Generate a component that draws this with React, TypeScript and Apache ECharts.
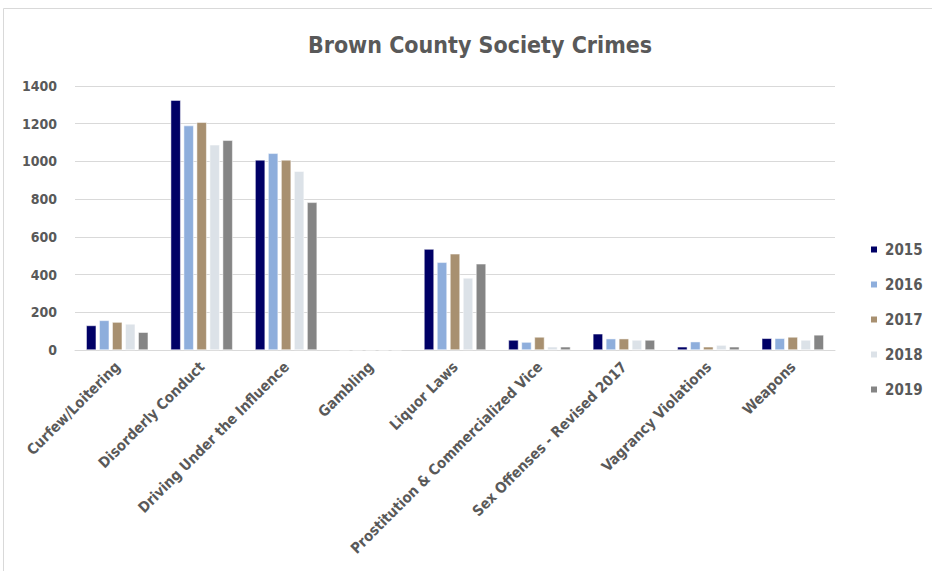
import React, { useEffect, useRef } from "react";
import * as echarts from "echarts";

const categories = [
  "Curfew/Loitering",
  "Disorderly Conduct",
  "Driving Under the Influence",
  "Gambling",
  "Liquor Laws",
  "Prostitution & Commercialized Vice",
  "Sex Offenses - Revised 2017",
  "Vagrancy Violations",
  "Weapons",
];
const years = ["2015", "2016", "2017", "2018", "2019"];
const values2015 = [130, 1325, 1008, 0, 535, 53, 86, 17, 62];
const values2016 = [157, 1190, 1043, 0, 465, 42, 60, 44, 62];
const values2017 = [148, 1208, 1008, 0, 510, 69, 60, 17, 69];
const values2018 = [138, 1088, 948, 0, 382, 17, 53, 26, 53];
const values2019 = [94, 1112, 783, 0, 457, 17, 53, 17, 80];
const colors = ["#000066", "#8EAEDC", "#A89070", "#DCE2E8", "#858585"];
const yTicks = { min: 0, max: 1400, interval: 200 };

const FONT = "'DejaVu Sans Condensed', 'Liberation Sans Narrow', 'Liberation Sans', sans-serif";
const TXT = "#595959";

export default function App() {
  const ref = useRef<HTMLDivElement>(null);
  useEffect(() => {
    if (!ref.current) return;
    const chart = echarts.init(ref.current, null, { renderer: "svg" });
    const all = [values2015, values2016, values2017, values2018, values2019];
    chart.setOption({
      animation: false,
      backgroundColor: "#ffffff",
      title: {
        text: "Brown County Society Crimes",
        left: 475,
        textAlign: "center",
        top: 28,
        textStyle: { fontFamily: FONT, fontWeight: "bold", fontSize: 23, color: TXT },
      },
      graphic: [
        {
          type: "rect",
          shape: { x: 3.5, y: 8.5, width: 960, height: 600 },
          style: { fill: "none", stroke: "#D9D9D9", lineWidth: 1 },
          silent: true,
        },
      ],
      legend: {
        orient: "vertical",
        left: 864,
        top: 237,
        itemWidth: 8,
        itemHeight: 8,
        itemGap: 20,
        icon: "rect",
        textStyle: { fontFamily: FONT, fontWeight: "bold", fontSize: 15, color: TXT, padding: [0, 0, 0, 2] },
        data: years,
      },
      grid: { left: 75, right: 97, top: 86, bottom: 221 },
      xAxis: {
        type: "category",
        data: categories,
        axisLine: { lineStyle: { color: "#D9D9D9" } },
        axisTick: { show: false },
        axisLabel: {
          rotate: 45,
          interval: 0,
          margin: 14,
          fontFamily: FONT,
          fontWeight: "bold",
          fontSize: 14.7,
          color: TXT,
        },
      },
      yAxis: {
        type: "value",
        min: yTicks.min,
        max: yTicks.max,
        interval: yTicks.interval,
        axisLine: { show: false },
        axisTick: { show: false },
        splitLine: { lineStyle: { color: "#D9D9D9" } },
        axisLabel: {
          margin: 18,
          fontFamily: FONT,
          fontWeight: "bold",
          fontSize: 14,
          color: TXT,
          formatter: (v: number) => String(v),
        },
      },
      series: years.map((y, i) => ({
        name: y,
        type: "bar",
        data: all[i],
        barWidth: 10,
        barGap: "30%",
        itemStyle: { color: colors[i], borderColor: "#ffffff", borderWidth: 0.5 },
      })),
    });
    return () => chart.dispose();
  }, []);
  return (
    <div
      ref={ref}
      style={{ position: "fixed", left: 0, top: 0, width: 932, height: 571 }}
    />
  );
}
